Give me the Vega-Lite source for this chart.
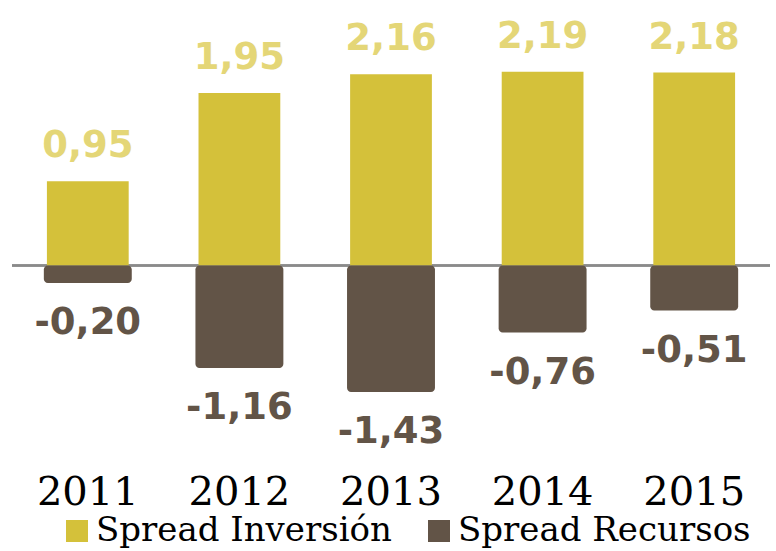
{
  "$schema": "https://vega.github.io/schema/vega-lite/v6.json",
  "width": 758,
  "height": 460,
  "autosize": {"type": "none"},
  "padding": {"left": 12, "top": 0, "right": 6, "bottom": 91},
  "background": "white",
  "config": {"view": {"stroke": null}},
  "data": {
    "values": [
      {"year": "2011", "series": "Spread Inversión", "value": 0.95, "label": "0,95"},
      {"year": "2012", "series": "Spread Inversión", "value": 1.95, "label": "1,95"},
      {"year": "2013", "series": "Spread Inversión", "value": 2.16, "label": "2,16"},
      {"year": "2014", "series": "Spread Inversión", "value": 2.19, "label": "2,19"},
      {"year": "2015", "series": "Spread Inversión", "value": 2.18, "label": "2,18"},
      {"year": "2011", "series": "Spread Recursos", "value": -0.20, "label": "-0,20"},
      {"year": "2012", "series": "Spread Recursos", "value": -1.16, "label": "-1,16"},
      {"year": "2013", "series": "Spread Recursos", "value": -1.43, "label": "-1,43"},
      {"year": "2014", "series": "Spread Recursos", "value": -0.76, "label": "-0,76"},
      {"year": "2015", "series": "Spread Recursos", "value": -0.51, "label": "-0,51"}
    ]
  },
  "encoding": {
    "x": {
      "field": "year", "type": "nominal",
      "scale": {"paddingInner": 0.42, "paddingOuter": 0.21},
      "axis": {
        "title": null, "domain": false, "ticks": false, "labelAngle": 0,
        "labelFont": "DejaVu Serif", "labelFontSize": 40, "labelColor": "#000000",
        "labelPadding": 12
      }
    },
    "y": {
      "field": "value", "type": "quantitative",
      "scale": {"domain": [-2.2, 3.0], "nice": false, "zero": false},
      "axis": null
    }
  },
  "layer": [
    {
      "mark": {"type": "rule", "color": "#8a8a8a", "strokeWidth": 1.5},
      "encoding": {"x": null, "y": {"datum": 0, "type": "quantitative"}}
    },
    {
      "transform": [{"filter": "datum.series === 'Spread Inversión'"}],
      "mark": {"type": "bar", "width": {"band": 0.93}},
      "encoding": {
        "y2": {"datum": 0},
        "color": {
          "field": "series", "type": "nominal",
          "scale": {"domain": ["Spread Inversión", "Spread Recursos"], "range": ["#D4C13A", "#625447"]},
          "legend": {
            "title": null, "orient": "none", "direction": "horizontal",
            "legendX": 48, "legendY": 514, "padding": 0,
            "symbolType": "square", "symbolSize": 484, "symbolStrokeWidth": 0,
            "symbolOpacity": 1,
            "labelFont": "DejaVu Serif", "labelFontSize": 34, "labelColor": "#000000",
            "labelOffset": 2, "columnPadding": 30, "labelLimit": 400
          }
        }
      }
    },
    {
      "transform": [{"filter": "datum.series === 'Spread Recursos'"}],
      "mark": {"type": "bar", "cornerRadius": 4},
      "encoding": {
        "y2": {"datum": 0},
        "color": {"field": "series", "type": "nominal"}
      }
    },
    {
      "transform": [{"filter": "datum.series === 'Spread Inversión'"}],
      "mark": {"type": "text", "baseline": "alphabetic", "dy": -24, "font": "DejaVu Sans", "fontWeight": "bold", "fontSize": 37, "color": "#E4D677"},
      "encoding": {"text": {"field": "label"}}
    },
    {
      "transform": [{"filter": "datum.series === 'Spread Recursos'"}],
      "mark": {"type": "text", "baseline": "top", "dy": 22, "font": "DejaVu Sans", "fontWeight": "bold", "fontSize": 37, "color": "#625447"},
      "encoding": {"text": {"field": "label"}}
    }
  ]
}
